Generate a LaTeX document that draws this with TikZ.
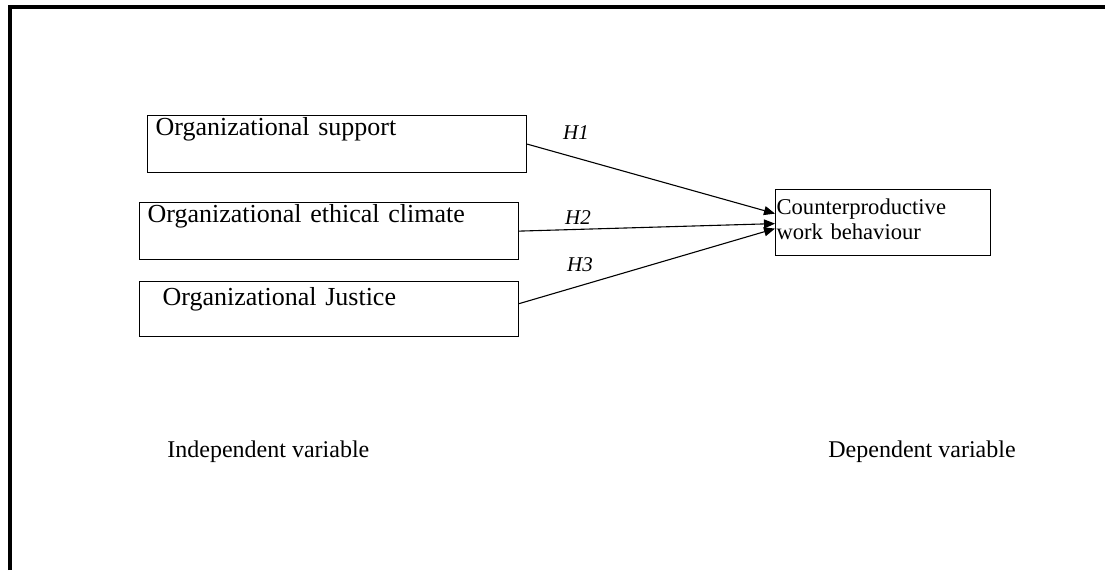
\documentclass[tikz,border=0pt]{standalone}
\usepackage{fontspec}
\setmainfont{Liberation Serif}
\usetikzlibrary{arrows.meta}

\begin{document}
\begin{tikzpicture}[x=0.5pt, y=-0.5pt, >={Triangle[length=5.5pt, width=4.5pt]},
  varbox/.style={rectangle, draw, line width=0.6pt, anchor=north west, inner ysep=0pt, align=left, font=\fontsize{13}{15}\selectfont},
  hyp/.style={inner sep=0pt, font=\fontsize{10.5}{12}\selectfont\itshape},
  caption/.style={anchor=base west, inner sep=0pt, font=\fontsize{12}{14}\selectfont}]

    \useasboundingbox (0,0) rectangle (1105,570);
    \draw[line width=2pt] (10,570) -- (10,7) -- (1105,7);

    \node[varbox, inner xsep=4pt, text width=181.5pt, text height=10pt, text depth=18.5pt] (os) at (147,115) {Organizational support};
    \node[varbox, inner xsep=4pt, text width=181.5pt, text height=10pt, text depth=18.5pt] (oec) at (139,202) {Organizational ethical climate};
    \node[varbox, inner xsep=11.5pt, text width=166.5pt, text height=12pt, text depth=15.5pt] (oj) at (139,281) {Organizational Justice};
    \node[varbox, inner xsep=0.5pt, text width=106.5pt, text height=12.5pt, text depth=20.5pt, font=\fontsize{11.3}{12.5}\selectfont] (cwb) at (775,189) {Counterproductive\\work behaviour};

    \node[hyp] (h1) at (576,133) {H1};
    \node[hyp] (h2) at (578,218) {H2};
    \node[hyp] (h3) at (580,265) {H3};

    \node[caption] (iv) at (167,457) {Independent variable};
    \node[caption] (dv) at (828,457) {Dependent variable};

    \draw[->, line width=0.55pt] (os.east) -- ([yshift=4.5pt]cwb.west);
    \draw[->, line width=0.55pt] (oec.east) -- ([yshift=-0.5pt]cwb.west);
    \draw[->, line width=0.55pt] ([yshift=2.75pt]oj.east) -- ([yshift=-3pt]cwb.west);

\end{tikzpicture}
\end{document}
